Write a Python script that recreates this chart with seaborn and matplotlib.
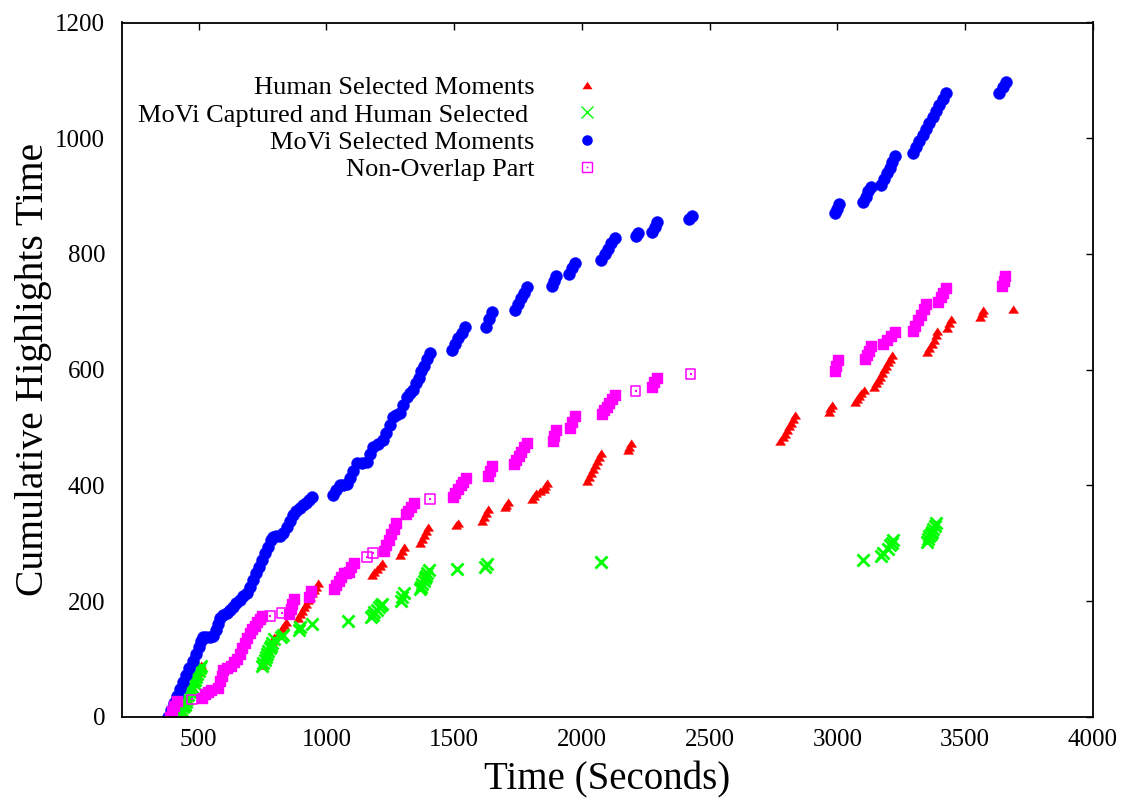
import matplotlib
matplotlib.use("Agg")
import matplotlib.pyplot as plt
from matplotlib.lines import Line2D
import seaborn as sns
import pandas as pd

# --- values: (time in seconds, cumulative highlight time) ---
# Human selected moments (red triangles)
human_pts = [
    (425, 0), (433, 9), (441, 17), (449, 26), (457, 34), (465, 43), (473, 51), (481, 60),
    (489, 68), (497, 77), (505, 86), (509, 90),
    (748, 90), (756, 98), (764, 106), (772, 114), (780, 122), (788, 131), (795, 138),
    (810, 141), (818, 147), (826, 153), (834, 159), (841, 164),
    (888, 171), (896, 177), (904, 183), (912, 189), (920, 195), (928, 201), (936, 207),
    (944, 213), (952, 219), (960, 225), (967, 231),
    (1178, 245), (1188, 250), (1198, 255), (1208, 261), (1217, 266),
    (1287, 279), (1295, 286), (1303, 293),
    (1365, 300), (1373, 307), (1381, 314), (1389, 321), (1397, 328),
    (1506, 331), (1514, 335),
    (1608, 338), (1616, 345), (1624, 352), (1631, 359),
    (1698, 362), (1704, 366), (1710, 371),
    (1804, 376), (1812, 381), (1819, 386), (1835, 390), (1850, 393), (1856, 398), (1862, 404),
    (2019, 407), (2027, 414), (2035, 421), (2043, 428), (2051, 435), (2059, 442), (2066, 449),
    (2073, 456),
    (2179, 461), (2185, 467), (2191, 473),
    (2777, 477), (2785, 483), (2793, 489), (2801, 496), (2809, 502), (2817, 508), (2825, 515),
    (2832, 521),
    (2965, 527), (2971, 533), (2977, 539),
    (3067, 544), (3076, 549), (3085, 554), (3094, 560), (3102, 565),
    (3141, 570), (3149, 576), (3157, 582), (3165, 588), (3173, 594), (3181, 601), (3189, 607),
    (3197, 613), (3205, 619), (3212, 625),
    (3352, 630), (3360, 637), (3368, 645), (3376, 652), (3384, 660), (3391, 667),
    (3430, 672), (3438, 680), (3446, 687),
    (3559, 691), (3565, 697), (3571, 703),
    (3685, 705),
]

# MoVi captured and human selected (green crosses)
captured_pts = [
    (425, 0), (430, 5), (435, 10), (440, 16), (445, 21), (450, 26), (455, 31), (460, 37),
    (465, 42), (470, 47), (475, 52), (480, 58), (485, 63), (490, 68), (495, 73), (500, 79),
    (505, 84), (509, 88),
    (748, 88), (753, 93), (758, 98), (763, 103), (768, 108), (773, 113), (778, 118),
    (783, 123), (788, 128), (795, 135),
    (822, 138), (830, 142), (892, 150), (898, 155), (943, 160), (1084, 165),
    (1174, 172), (1181, 176), (1188, 181), (1196, 185), (1204, 189), (1212, 193), (1217, 195),
    (1291, 200), (1297, 207), (1303, 214),
    (1365, 220), (1370, 225), (1375, 230), (1380, 235), (1385, 239), (1390, 244), (1395, 249),
    (1400, 253),
    (1511, 256), (1622, 259), (1630, 264), (2073, 267),
    (3099, 271), (3172, 277), (3180, 283), (3198, 290), (3205, 296), (3212, 301), (3218, 305),
    (3350, 302), (3355, 307), (3360, 312), (3365, 316), (3370, 320), (3375, 325), (3380, 329),
    (3385, 334),
]

# MoVi selected moments (blue circles)
movi_pts = [
    (380, 0), (392, 12), (404, 24), (416, 36), (428, 48), (440, 60), (452, 72), (464, 84),
    (476, 96), (488, 108), (500, 120), (510, 130), (517, 137),
    (530, 138), (544, 138), (556, 140), (566, 150), (575, 160), (583, 170),
    (596, 176), (610, 180), (622, 184), (635, 190), (648, 196), (661, 202), (675, 208), (689, 214),
    (700, 224), (712, 236), (724, 248), (736, 259), (748, 271), (760, 283), (772, 294),
    (784, 305), (791, 311), (804, 312), (818, 313), (830, 318), (845, 328), (857, 339),
    (869, 349), (882, 355), (895, 360), (908, 366), (920, 370), (932, 375), (943, 379),
    (1025, 383), (1039, 392), (1053, 400), (1066, 400), (1080, 402), (1092, 413), (1104, 424),
    (1119, 438), (1138, 439), (1158, 441), (1170, 454), (1182, 466), (1200, 472), (1221, 478),
    (1234, 491), (1247, 505), (1260, 518), (1273, 522), (1287, 525), (1300, 538), (1315, 552),
    (1327, 559), (1338, 565), (1350, 576), (1361, 586), (1372, 597), (1383, 607), (1394, 618),
    (1405, 628),
    (1491, 634), (1503, 644), (1516, 654), (1529, 664), (1541, 673),
    (1626, 674), (1638, 687), (1649, 700),
    (1737, 703), (1749, 713), (1761, 723), (1773, 732), (1785, 742),
    (1881, 745), (1891, 754), (1900, 762),
    (1948, 765), (1960, 775), (1972, 785),
    (2076, 789), (2089, 799), (2102, 808), (2115, 818), (2128, 827),
    (2213, 831), (2219, 836),
    (2274, 838), (2284, 847), (2294, 856),
    (2420, 860), (2432, 866),
    (2989, 870), (2998, 878), (3006, 886),
    (3099, 890), (3110, 899), (3121, 908), (3132, 916),
    (3171, 919), (3182, 929), (3193, 939), (3204, 949), (3215, 959), (3226, 969),
    (3295, 974), (3308, 984), (3321, 995), (3334, 1005), (3347, 1016), (3360, 1026),
    (3373, 1037), (3386, 1047), (3399, 1057), (3412, 1068), (3425, 1078),
    (3634, 1078), (3647, 1088), (3660, 1098),
]

# Non-overlap part (magenta squares): dense runs and isolated moments
nonoverlap_pts = [
    (386, 0), (395, 9), (404, 18), (414, 28),
    (515, 32), (525, 40), (537, 42), (548, 46),
    (575, 50), (583, 61), (590, 71), (597, 80), (611, 84), (625, 88), (637, 94), (650, 100),
    (660, 109), (670, 118), (680, 127), (690, 136), (700, 145), (710, 151), (720, 157),
    (730, 163), (740, 169), (748, 174),
    (853, 178), (860, 186), (867, 195), (873, 203),
    (931, 207), (939, 217),
    (1029, 221), (1039, 228), (1049, 235), (1058, 241), (1068, 248), (1078, 248), (1088, 250),
    (1097, 258), (1107, 266),
    (1225, 286), (1234, 296), (1244, 306), (1253, 315), (1263, 325), (1272, 335),
    (1311, 350), (1321, 356), (1331, 362), (1342, 369),
    (1495, 380), (1505, 387), (1515, 393), (1525, 400), (1535, 406), (1545, 413),
    (1631, 416), (1639, 424), (1647, 433),
    (1733, 437), (1743, 444), (1753, 451), (1763, 458), (1774, 466), (1784, 473),
    (1886, 477), (1892, 486), (1897, 496),
    (1952, 499), (1962, 509), (1972, 520),
    (2077, 523), (2087, 530), (2097, 536), (2107, 543), (2118, 549), (2128, 556),
    (2273, 570), (2283, 578), (2292, 585),
    (2989, 598), (2996, 607), (3004, 617),
    (3106, 618), (3115, 626), (3124, 633), (3133, 641),
    (3180, 644), (3195, 651), (3211, 658), (3227, 665),
    (3294, 667), (3305, 676), (3316, 685), (3327, 695), (3338, 704), (3348, 713),
    (3395, 717), (3404, 725), (3414, 733), (3423, 741),
    (3642, 745), (3650, 754), (3657, 762),
]
nonoverlap_lone = [
    (473, 30), (779, 174), (826, 179), (1158, 276), (1182, 283), (1405, 376),
    (2210, 563), (2425, 592),
]

x_ticks = [500, 1000, 1500, 2000, 2500, 3000, 3500, 4000]
y_ticks = [0, 200, 400, 600, 800, 1000, 1200]

labels = [
    "Human Selected Moments",
    "MoVi Captured and Human Selected ",
    "MoVi Selected Moments",
    "Non-Overlap Part",
]

RED, GREEN, BLUE, MAGENTA = "#ff0000", "#00ff00", "#0000ff", "#ff00ff"
# gnuplot-style triangle: wider than tall
TRI = [(-1, -0.75), (1, -0.75), (0, 0.75)]

sns.set_style("white")
plt.rcParams["font.family"] = ["Liberation Serif", "DejaVu Serif"]
plt.rcParams["text.color"] = "black"
plt.rcParams["axes.labelcolor"] = "black"
plt.rcParams["xtick.color"] = "black"
plt.rcParams["ytick.color"] = "black"


def to_df(pts):
    return pd.DataFrame(pts, columns=["time", "cum"])


fig = plt.figure(figsize=(11.33, 8.0), dpi=100)
ax = fig.add_axes([122 / 1133, 83.3 / 800, 971 / 1133, 694.2 / 800])

sns.scatterplot(data=to_df(human_pts), x="time", y="cum", marker=TRI, s=52,
                color=RED, edgecolor=RED, linewidth=0.4, legend=False, ax=ax)
sns.scatterplot(data=to_df(captured_pts), x="time", y="cum", marker="x", s=75,
                color=GREEN, linewidth=2.0, legend=False, ax=ax)
sns.scatterplot(data=to_df(movi_pts), x="time", y="cum", marker="o", s=74,
                color=BLUE, edgecolor=BLUE, linewidth=0.3, legend=False, ax=ax)
sns.scatterplot(data=to_df(nonoverlap_pts), x="time", y="cum", marker="s", s=50,
                color=MAGENTA, edgecolor=MAGENTA, linewidth=1.0, legend=False, ax=ax)
lone = to_df(nonoverlap_lone)
sns.scatterplot(data=lone, x="time", y="cum", marker="s", s=47, facecolor="none",
                edgecolor=MAGENTA, linewidth=1.1, legend=False, ax=ax)
sns.scatterplot(data=lone, x="time", y="cum", marker="s", s=2,
                color=MAGENTA, edgecolor=MAGENTA, linewidth=0, legend=False, ax=ax)

ax.set_xlim(200, 4000)
ax.set_ylim(0, 1200)
ax.set_xticks(x_ticks)
ax.set_yticks(y_ticks)
ax.tick_params(axis="both", direction="in", length=5, width=1.0, labelsize=18,
               top=True, right=True, color="black", labelcolor="black")
ax.tick_params(axis="x", pad=9)
ax.tick_params(axis="y", pad=12)
for side in ax.spines.values():
    side.set_color("black")
    side.set_linewidth(1.3)

ax.set_xlabel("Time (Seconds)", fontsize=28, color="black")
ax.set_ylabel("Cumulative Highlights Time", fontsize=28.5, color="black")
ax.xaxis.set_label_coords(0.5, -0.064)
ax.yaxis.set_label_coords(-0.072, 0.5)

handles = [
    Line2D([], [], ls="none", marker=TRI, markersize=7.2, color=RED, mew=0),
    Line2D([], [], ls="none", marker="x", markersize=8.6, color=GREEN, mew=1.0),
    Line2D([], [], ls="none", marker="o", markersize=7.6, color=BLUE, mew=0),
    (Line2D([], [], ls="none", marker="s", markersize=6.8, mfc="none", mec=MAGENTA, mew=1.0),
     Line2D([], [], ls="none", marker="s", markersize=1.2, color=MAGENTA, mew=0)),
]
leg = ax.legend(handles, labels, loc="upper right", bbox_to_anchor=(0.4928, 0.923),
                markerfirst=False, frameon=False, fontsize=19, handlelength=1.0,
                handletextpad=1.5, labelspacing=0.14, borderpad=0, borderaxespad=0)
for t in leg.get_texts():
    t.set_color("black")

fig.savefig("out.png", dpi=100)
